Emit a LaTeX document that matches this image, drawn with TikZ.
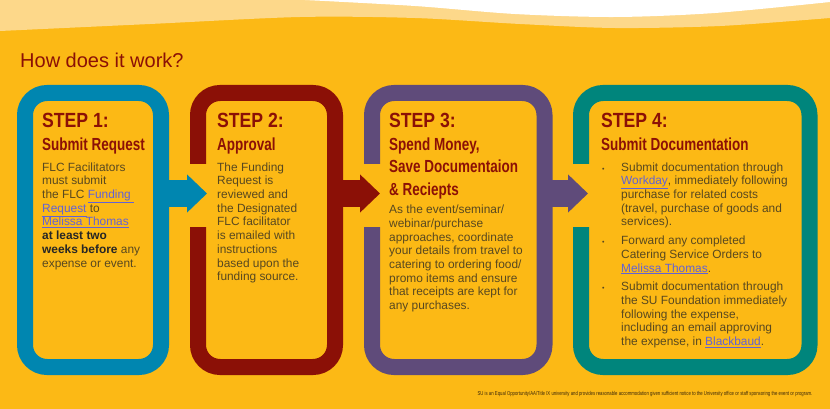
\documentclass[tikz,border=0pt]{standalone}
\usepackage{fontspec}
\setmainfont{Liberation Sans}
\newfontfamily\stepfont{Liberation Sans}[FakeStretch=0.86]
\newfontfamily\subfont{Liberation Sans}[FakeStretch=0.77]
\newfontfamily\notefont{Liberation Sans}[FakeStretch=0.75]
\usepackage{tikz}
\usetikzlibrary{arrows.meta,positioning,calc}
\usepackage{xcolor}
\definecolor{bgyellow}{RGB}{252,185,21}
\definecolor{lightband}{RGB}{253,216,138}
\definecolor{maroon}{RGB}{139,16,6}
\definecolor{stepblue}{RGB}{0,134,176}
\definecolor{steppurple}{RGB}{95,75,122}
\definecolor{stepteal}{RGB}{0,133,124}
\definecolor{bodytext}{RGB}{88,72,32}
\definecolor{linkblue}{RGB}{98,98,214}
\definecolor{footbrown}{RGB}{60,40,10}
\newcommand{\link}[1]{{\color{linkblue}\underline{#1}}}
\newcommand{\bul}{\makebox[19pt][l]{\fontsize{7}{7}\selectfont\textbullet}}
\tikzstyle{ring} = [draw, line width=16pt, rounded corners=22pt, minimum height=274pt, inner sep=0pt, outer sep=0pt]
\tikzstyle{flow} = [line width=27pt, -{Triangle[length=20pt,width=37pt]}]
\tikzstyle{steptitle} = [anchor=base west, inner sep=0pt, text=maroon, font=\stepfont\bfseries\fontsize{20.5}{24}\selectfont]
\tikzstyle{stepsub} = [anchor=base west, inner sep=0pt, align=left, text=maroon, font=\subfont\bfseries\fontsize{17.5}{22.3}\selectfont]
\tikzstyle{body} = [anchor=north west, inner sep=0pt, align=left, text=bodytext, font=\fontsize{11.9}{13.7}\selectfont]

\begin{document}
\begin{tikzpicture}[x=1pt, y=-1pt]
\useasboundingbox (0,0) rectangle (830,409);

% Background and wave
\fill[bgyellow] (0,0) rectangle (830,409);
\fill[lightband] (0,0) -- (830,0) -- plot[smooth] coordinates {(830,18) (720,26) (615,28) (520,24) (415,18) (300,17) (150,24) (0,31)} -- cycle;
\fill[white] plot[smooth] coordinates {(305,0) (415,6) (515,14) (615,17) (715,13) (830,2)} -- (830,0) -- cycle;

% Heading
\node[anchor=base west, inner sep=0pt, text=maroon, font=\fontsize{20}{24}\selectfont] (head) at (20,68) {How does it work?};

% Rings
\node[ring, draw=stepblue, minimum width=136pt] (s1) at (93,230) {};
\node[ring, draw=maroon, minimum width=137pt] (s2) at (266.5,230) {};
\node[ring, draw=steppurple, minimum width=172.5pt] (s3) at (458.25,230) {};
\node[ring, draw=stepteal, minimum width=228.5pt] (s4) at (695.25,230) {};

% Openings
\foreach \n in {s2,s3,s4} {
    \fill[bgyellow] ($(\n.west)+(-9,-66)$) rectangle ($(\n.west)+(9,-3)$);
}

% Arrows
\draw[flow, stepblue] ($(s1.east)+(0,-36.5)$) -- ($(s2.west)+(9,-36.5)$);
\draw[flow, maroon] ($(s2.east)+(0,-36.5)$) -- ($(s3.west)+(8,-36.5)$);
\draw[flow, steppurple] ($(s3.east)+(0,-36.5)$) -- ($(s4.west)+(7,-36.5)$);

% Step 1
\node[steptitle] (t1) at (42,128) {STEP 1:};
\node[stepsub] (u1) at (42,151) {Submit Request};
\node[body] (b1) at (42,162.3) {FLC Facilitators\\must submit\\the FLC \link{Funding }\\\link{Request} to\\\link{Melissa Thomas}\\{\color{black!85}\bfseries at least two}\\{\color{black!85}\bfseries weeks before} any\\expense or event.};

% Step 2
\node[steptitle] (t2) at (217,128) {STEP 2:};
\node[stepsub] (u2) at (217,151) {Approval};
\node[body] (b2) at (217,162.3) {The Funding\\Request is\\reviewed and\\the Designated\\FLC facilitator\\is emailed with\\instructions\\based upon the\\funding source.};

% Step 3
\node[steptitle] (t3) at (389,128) {STEP 3:};
\node[stepsub] (u3) at (389,195) {Spend Money,\\Save Documentaion\\\& Reciepts};
\node[body] (b3) at (389,204.8) {As the event/seminar/\\webinar/purchase\\approaches, coordinate\\your details from travel to\\catering to ordering food/\\promo items and ensure\\that receipts are kept for\\any purchases.};

% Step 4
\node[steptitle] (t4) at (601,128) {STEP 4:};
\node[stepsub] (u4) at (601,151) {Submit Documentation};
\node[body] (b4) at (602,162.3) {\bul Submit documentation through\\\hspace*{19pt}\link{Workday}, immediately following\\\hspace*{19pt}purchase for related costs\\\hspace*{19pt}(travel, purchase of goods and\\\hspace*{19pt}services).\\[5pt]\bul Forward any completed\\\hspace*{19pt}Catering Service Orders to\\\hspace*{19pt}\link{Melissa Thomas}.\\[5pt]\bul Submit documentation through\\\hspace*{19pt}the SU Foundation immediately\\\hspace*{19pt}following the expense,\\\hspace*{19pt}including an email approving\\\hspace*{19pt}the expense, in \link{Blackbaud}.};

% Footer
\node[anchor=base, inner sep=0pt, text=footbrown, font=\notefont\fontsize{5.7}{6}\selectfont] (note) at (645,395) {SU is an Equal Opportunity/AA/Title IX university and provides reasonable accommodation given sufficient notice to the University office or staff sponsoring the event or program.};
\end{tikzpicture}
\end{document}
